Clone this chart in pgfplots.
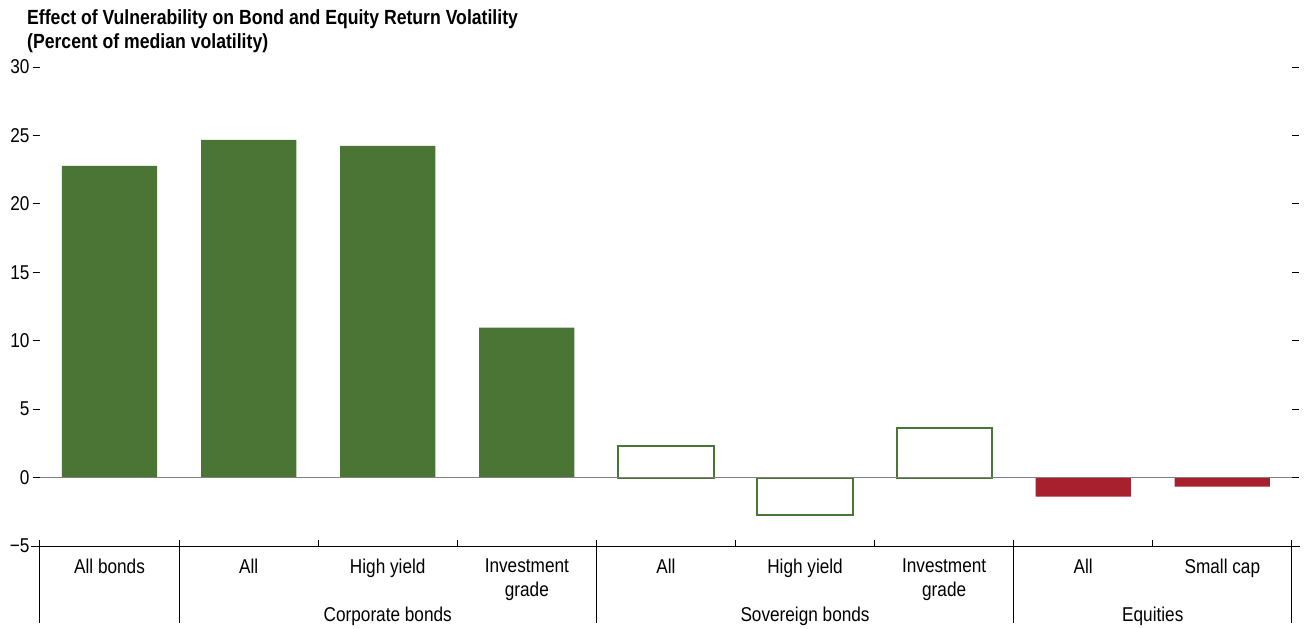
\documentclass[border=0pt]{standalone}
\usepackage{fontspec}
\setmainfont[FakeStretch=0.86]{Liberation Sans}
\usepackage{pgfplots}
\pgfplotsset{compat=1.18}
\definecolor{bargreen}{RGB}{74,117,53}
\definecolor{barred}{RGB}{168,31,46}
\begin{document}
\begin{tikzpicture}
\useasboundingbox (-40pt,-83pt) rectangle (1267pt,546pt);
\begin{axis}[
  at={(0pt,0pt)}, anchor=south west,
  width=1252pt, height=479pt, scale only axis,
  xmin=0, xmax=9, ymin=-5, ymax=30,
  axis line style={draw=none},
  clip=false,
  font=\fontsize{20}{24}\selectfont,
  ytick={-5,0,5,10,15,20,25,30},
  yticklabels={−5,0,5,10,15,20,25,30},
  ytick pos=both, yticklabel pos=left,
  tick align=outside,
  major tick length=7pt,
  y tick style={black, line width=0.8pt},
  xtick={0.5,1.5,2.5,3.5,4.5,5.5,6.5,7.5,8.5},
  xticklabels={All bonds, All, High yield, {Investment\\grade}, All, High yield, {Investment\\grade}, All, Small cap},
  xticklabel style={align=center, yshift=-2pt},
  x tick style={draw=none},
  ybar, bar width=0.685,
]
\addplot[ybar, bar shift=0pt, fill=bargreen, draw=none] coordinates {(0.5,22.77) (1.5,24.67) (2.5,24.23) (3.5,10.95)};
\addplot[ybar, bar shift=0pt, fill=white, draw=bargreen, line width=2pt] coordinates {(4.5,2.34) (5.5,-2.70) (6.5,3.65)};
\addplot[ybar, bar shift=0pt, fill=barred, draw=none] coordinates {(7.5,-1.39) (8.5,-0.66)};
% zero line
\draw[gray, line width=1.6pt] (axis cs:0,0) -- (axis cs:9,0);
% bottom line
\draw[black, line width=1pt] ([xshift=-9pt]axis cs:0,-5) -- ([xshift=8pt]axis cs:9,-5);
% group separators
\draw[black, line width=1pt] ([yshift=6pt]axis cs:0,-5) -- ([yshift=-77pt]axis cs:0,-5);
\draw[black, line width=1pt] ([yshift=6pt]axis cs:1,-5) -- ([yshift=-77pt]axis cs:1,-5);
\draw[black, line width=1pt] ([yshift=6pt]axis cs:4,-5) -- ([yshift=-77pt]axis cs:4,-5);
\draw[black, line width=1pt] ([yshift=6pt]axis cs:7,-5) -- ([yshift=-77pt]axis cs:7,-5);
\draw[black, line width=1pt] ([yshift=6pt]axis cs:9,-5) -- ([yshift=-77pt]axis cs:9,-5);
\draw[black, line width=1pt] ([yshift=6pt]axis cs:2,-5) -- (axis cs:2,-5);
\draw[black, line width=1pt] ([yshift=6pt]axis cs:3,-5) -- (axis cs:3,-5);
\draw[black, line width=1pt] ([yshift=6pt]axis cs:5,-5) -- (axis cs:5,-5);
\draw[black, line width=1pt] ([yshift=6pt]axis cs:6,-5) -- (axis cs:6,-5);
\draw[black, line width=1pt] ([yshift=6pt]axis cs:8,-5) -- (axis cs:8,-5);
% group labels
\node[anchor=center] at ([yshift=-70pt]axis cs:2.5,-5) {Corporate bonds};
\node[anchor=center] at ([yshift=-70pt]axis cs:5.5,-5) {Sovereign bonds};
\node[anchor=center] at ([yshift=-70pt]axis cs:8,-5) {Equities};
% title
\node[anchor=base west, inner sep=0pt, font=\fontsize{20.5}{24}\selectfont\bfseries] at ([xshift=-13pt, yshift=42pt]axis cs:0,30) {Effect of Vulnerability on Bond and Equity Return Volatility};
\node[anchor=base west, inner sep=0pt, font=\fontsize{20.5}{24}\selectfont\bfseries] at ([xshift=-13pt, yshift=18pt]axis cs:0,30) {(Percent of median volatility)};
\end{axis}
\end{tikzpicture}
\end{document}
